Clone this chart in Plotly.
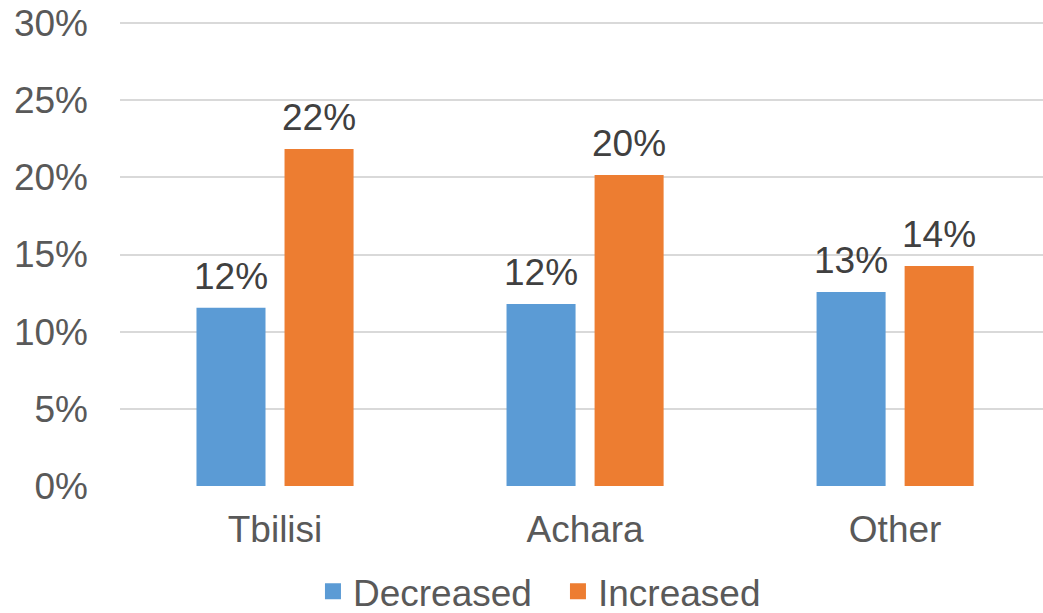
import plotly.graph_objects as go

categories = ["Tbilisi", "Achara", "Other"]
decreased = [0.1155, 0.118, 0.1257]
increased = [0.2184, 0.2015, 0.1426]
series_names = ["Decreased", "Increased"]
colors = ["#5B9BD5", "#ED7D31"]
y_ticks = [0, 0.05, 0.10, 0.15, 0.20, 0.25, 0.30]
y_tick_labels = ["0%", "5%", "10%", "15%", "20%", "25%", "30%"]

FONT = "Liberation Sans, Arial, sans-serif"
FS = 37
BARGAP = 0.432
BARGROUPGAP = 0.216

fig = go.Figure()
n_series = 2
slot = (1 - BARGAP) / n_series
for k, (name, vals, col) in enumerate(zip(series_names, [decreased, increased], colors)):
    fig.add_trace(go.Bar(
        x=categories, y=vals, name=name, marker_color=col,
        marker_line_width=0, showlegend=False,
    ))
    fig.add_trace(go.Scatter(
        x=[None], y=[None], mode="markers", name=name,
        marker=dict(symbol="square", size=16, color=col),
        showlegend=True,
    ))
    offset = (k - (n_series - 1) / 2) * slot
    for i, v in enumerate(vals):
        fig.add_annotation(
            x=i + offset, y=v, xref="x", yref="y",
            text=f"{round(v*100):d}%", showarrow=False,
            yanchor="bottom", yshift=9,
            font=dict(family=FONT, size=FS, color="#404040"),
        )

fig.update_layout(
    width=1043, height=613,
    margin=dict(l=120, r=0, t=22, b=127, autoexpand=False),
    paper_bgcolor="white", plot_bgcolor="white",
    barmode="group", bargap=BARGAP, bargroupgap=BARGROUPGAP,
    font=dict(family=FONT, size=FS, color="#595959"),
    showlegend=True,
    legend=dict(orientation="h", x=0.4745, xanchor="center", y=-0.161, yanchor="top",
                font=dict(family=FONT, size=FS, color="#595959"),
                itemsizing="trace", traceorder="normal", entrywidth=200),
    xaxis=dict(range=[-0.5, 2.477], showgrid=False, zeroline=False, showline=False,
               ticks="", tickfont=dict(family=FONT, size=FS, color="#595959"),
               ticklabelstandoff=18, automargin=False),
    yaxis=dict(range=[0, 0.3007], tickvals=y_ticks, ticktext=y_tick_labels,
               showgrid=True, gridcolor="#D9D9D9", gridwidth=1.5,
               zeroline=False, showline=False, ticks="",
               tickfont=dict(family=FONT, size=FS, color="#595959"),
               ticklabelstandoff=31, automargin=False),
)

fig.write_html("out.html")
